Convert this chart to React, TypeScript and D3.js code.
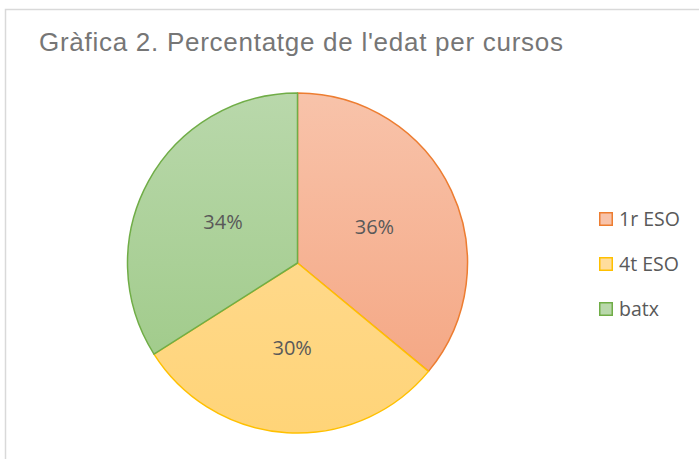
import React, { useEffect, useRef } from 'react';
import * as d3 from 'd3';

// data
const courses = ['1r ESO', '4t ESO', 'batx'];
const shares = [36, 30, 34];
const title = "Gràfica 2. Percentatge de l'edat per cursos";

const fillTop = ['#f8c3aa', '#ffdd9c', '#b9d8ab'];
const fillBottom = ['#f4a27d', '#ffd478', '#9bc883'];
const strokes = ['#ed7d31', '#ffc000', '#70ad47'];

const W = 699, H = 459;

const App = () => {
  const ref = useRef<SVGSVGElement>(null);

  useEffect(() => {
    const svg = d3.select(ref.current);
    svg.selectAll('*').remove();

    // chart frame (right and bottom edges fall outside the picture)
    svg.append('rect')
      .attr('x', 5.5).attr('y', 9.5)
      .attr('width', W + 20).attr('height', H + 20)
      .attr('fill', '#fff')
      .attr('stroke', '#d9d9d9').attr('stroke-width', 1.5);

    svg.append('text')
      .attr('x', 39).attr('y', 51)
      .attr('font-family', 'Liberation Sans, Arial, sans-serif')
      .attr('font-size', 26)
      .attr('textLength', 524)
      .attr('lengthAdjust', 'spacing')
      .attr('fill', '#767676')
      .text(title);

    const cx = 297.5, cy = 263, r = 170;

    const defs = svg.append('defs');
    courses.forEach((c, i) => {
      const g = defs.append('linearGradient')
        .attr('id', 'grad' + i)
        .attr('gradientUnits', 'userSpaceOnUse')
        .attr('x1', 0).attr('y1', -r)
        .attr('x2', 0).attr('y2', r);
      g.append('stop').attr('offset', '0%').attr('stop-color', fillTop[i]);
      g.append('stop').attr('offset', '100%').attr('stop-color', fillBottom[i]);
    });

    const pie = d3.pie<number>().sort(null).value(d => d);
    const arcs = pie(shares);
    const arc = d3.arc<d3.PieArcDatum<number>>().innerRadius(0).outerRadius(r);

    const g = svg.append('g').attr('transform', `translate(${cx},${cy})`);

    g.selectAll('path')
      .data(arcs)
      .enter().append('path')
      .attr('d', arc)
      .attr('fill', (d, i) => `url(#grad${i})`)
      .attr('stroke', (d, i) => strokes[i])
      .attr('stroke-width', 1.5)
      .attr('stroke-linejoin', 'round');

    const labelArc = d3.arc<d3.PieArcDatum<number>>().innerRadius(r * 0.5).outerRadius(r * 0.5);
    g.selectAll('text.lbl')
      .data(arcs)
      .enter().append('text')
      .attr('class', 'lbl')
      .attr('transform', d => `translate(${labelArc.centroid(d)})`)
      .attr('text-anchor', 'middle')
      .attr('dy', '0.36em')
      .attr('font-family', 'Open Sans, Noto Sans, sans-serif')
      .attr('font-size', 20)
      .attr('fill', '#595959')
      .text(d => d.data + '%');

    // legend
    const leg = svg.append('g').attr('transform', 'translate(599,0)');
    const ly = d3.scalePoint<string>().domain(courses).range([219, 309]);
    courses.forEach((c, i) => {
      leg.append('rect')
        .attr('x', 0.75).attr('y', ly(c)! - 6.25)
        .attr('width', 12.5).attr('height', 12.5)
        .attr('fill', fillTop[i])
        .attr('stroke', strokes[i]).attr('stroke-width', 1.5);
      leg.append('text')
        .attr('x', 20).attr('y', ly(c)!)
        .attr('dy', '0.36em')
        .attr('font-family', 'Open Sans, Noto Sans, sans-serif')
        .attr('font-size', 19.5)
        .attr('fill', '#595959')
        .text(c);
    });
  }, []);

  return (
    <svg ref={ref} width={W} height={H}
      style={{ position: 'absolute', left: 0, top: 0, background: '#fff' }} />
  );
};

export default App;
